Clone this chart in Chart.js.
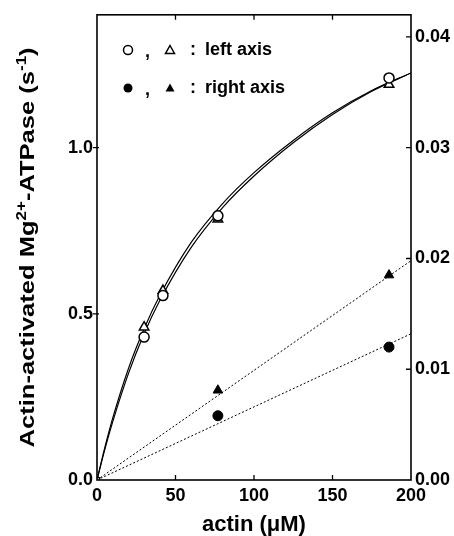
<!DOCTYPE html>
<html>
<head>
<meta charset="utf-8">
<script src="https://cdn.jsdelivr.net/npm/chart.js@4.4.0/dist/chart.umd.min.js"></script>
<style>
  html, body { margin: 0; padding: 0; background: #fff; }
  #wrap { width: 454px; height: 536px; }
</style>
</head>
<body>
<div id="wrap"><canvas id="atpaseChart" width="454" height="536"></canvas></div>
<script>
// actin concentrations (uM) of the measured points
const actinOpen = [30, 42, 77, 186];
const openCircle = [0.43, 0.555, 0.795, 1.21];     // left axis
const openTriangle = [0.46, 0.57, 0.785, 1.19];    // left axis
const actinFilled = [77, 186];
const filledCircle = [0.0058, 0.012];              // right axis
const filledTriangle = [0.0081, 0.0185];           // right axis

// fitted curves
const curveX = [0, 5, 10, 20, 30, 40, 60, 80, 100, 125, 150, 175, 200];
const curveCircle = [0, 0.092, 0.175, 0.32, 0.44, 0.54, 0.70, 0.82, 0.915, 1.015, 1.10, 1.17, 1.225];
const curveTriangle = [0, 0.098, 0.186, 0.335, 0.455, 0.555, 0.715, 0.832, 0.925, 1.022, 1.105, 1.172, 1.225];
const lineX = [0, 200];
const lineTriangle = [0, 0.0198];
const lineCircle = [0, 0.0132];

const xTicks = [0, 50, 100, 150, 200];
const leftTicks = [0, 0.5, 1.0];
const rightTicks = [0, 0.01, 0.02, 0.03, 0.04];

const FONT = "'Liberation Sans', Arial, sans-serif";

function pts(xs, ys) {
  return xs.map((x, i) => ({ x: x, y: ys[i] }));
}

// frame, tick marks, axis titles and in-plot key
const decor = {
  id: 'decor',
  afterDraw(chart) {
    const ctx = chart.ctx;
    const a = chart.chartArea;
    const sx = chart.scales.x, sy = chart.scales.y, sr = chart.scales.y1;
    ctx.save();
    ctx.strokeStyle = '#000';
    ctx.lineWidth = 1.6;
    ctx.strokeRect(a.left, a.top, a.right - a.left, a.bottom - a.top);
    ctx.lineWidth = 1.3;
    ctx.beginPath();
    xTicks.slice(1, -1).forEach(v => {
      const px = sx.getPixelForValue(v);
      ctx.moveTo(px, a.bottom); ctx.lineTo(px, a.bottom - 5);
      ctx.moveTo(px, a.top); ctx.lineTo(px, a.top + 5);
    });
    leftTicks.slice(1).forEach(v => {
      const py = sy.getPixelForValue(v);
      ctx.moveTo(a.left - 4, py); ctx.lineTo(a.left + 2, py);
    });
    rightTicks.slice(1).forEach(v => {
      const py = sr.getPixelForValue(v);
      ctx.moveTo(a.right - 5, py); ctx.lineTo(a.right, py);
    });
    ctx.stroke();

    // x title
    ctx.fillStyle = '#000';
    ctx.font = 'bold 22px ' + FONT;
    ctx.textAlign = 'center';
    ctx.textBaseline = 'middle';
    ctx.fillText('actin (\u03BCM)', (a.left + a.right) / 2, 525);

    // y title with superscripts, stretched along its length like the scan
    const parts = [
      ['Actin-activated Mg', false], ['2+', true], ['-ATPase (s', false], ['-1', true], [')', false]
    ];
    const big = 'bold 21px ' + FONT, small = 'bold 14px ' + FONT;
    let total = 0;
    parts.forEach(p => { ctx.font = p[1] ? small : big; total += ctx.measureText(p[0]).width; });
    const stretch = 400 / total;
    ctx.translate(27, (a.top + a.bottom) / 2);
    ctx.rotate(-Math.PI / 2);
    ctx.scale(stretch, 1);
    ctx.textAlign = 'left';
    ctx.textBaseline = 'alphabetic';
    let cx = -total / 2;
    parts.forEach(p => {
      ctx.font = p[1] ? small : big;
      ctx.fillText(p[0], cx, p[1] ? -1 : 7);
      cx += ctx.measureText(p[0]).width;
    });
    ctx.setTransform(1, 0, 0, 1, 0, 0);

    // key
    ctx.font = 'bold 18px ' + FONT;
    ctx.textAlign = 'left';
    ctx.textBaseline = 'middle';
    const rows = [[50, false, 'left axis'], [88, true, 'right axis']];
    rows.forEach(r => {
      const y = r[0];
      ctx.lineWidth = 1.5;
      ctx.beginPath();
      ctx.arc(128, y, 4.5, 0, Math.PI * 2);
      if (r[1]) ctx.fill(); else ctx.stroke();
      ctx.beginPath();
      ctx.moveTo(170, y - 4.5); ctx.lineTo(174.5, y + 3.5); ctx.lineTo(165.5, y + 3.5); ctx.closePath();
      if (r[1]) ctx.fill(); else ctx.stroke();
      ctx.fillText(',', 145, y + 2);
      ctx.fillText(':', 190, y);
      ctx.fillText(r[2], 205, y);
    });
    ctx.restore();
  }
};

new Chart(document.getElementById('atpaseChart'), {
  type: 'scatter',
  data: {
    datasets: [
      { data: pts(actinOpen, openCircle), yAxisID: 'y', pointStyle: 'circle', pointRadius: 5,
        borderColor: '#000', backgroundColor: '#fff', borderWidth: 1.5, showLine: false },
      { data: pts(actinOpen, openTriangle), yAxisID: 'y', pointStyle: 'triangle', pointRadius: 5.5,
        borderColor: '#000', backgroundColor: '#fff', borderWidth: 1.5, showLine: false },
      { data: pts(actinFilled, filledCircle), yAxisID: 'y1', pointStyle: 'circle', pointRadius: 5,
        borderColor: '#000', backgroundColor: '#000', borderWidth: 1, showLine: false },
      { data: pts(actinFilled, filledTriangle), yAxisID: 'y1', pointStyle: 'triangle', pointRadius: 5.5,
        borderColor: '#000', backgroundColor: '#000', borderWidth: 1, showLine: false },
      { data: [{ x: 0, y: 0 }], yAxisID: 'y', pointStyle: 'rect', pointRadius: 3.5,
        borderColor: '#000', backgroundColor: '#fff', borderWidth: 1.2, showLine: false },
      { data: pts(curveX, curveCircle), yAxisID: 'y', showLine: true, pointRadius: 0,
        borderColor: '#000', borderWidth: 1.2, cubicInterpolationMode: 'monotone' },
      { data: pts(curveX, curveTriangle), yAxisID: 'y', showLine: true, pointRadius: 0,
        borderColor: '#000', borderWidth: 1.2, cubicInterpolationMode: 'monotone' },
      { data: pts(lineX, lineTriangle), yAxisID: 'y1', showLine: true, pointRadius: 0,
        borderColor: '#000', borderWidth: 1, borderDash: [2, 2] },
      { data: pts(lineX, lineCircle), yAxisID: 'y1', showLine: true, pointRadius: 0,
        borderColor: '#000', borderWidth: 1, borderDash: [2, 2] }
    ]
  },
  options: {
    responsive: false,
    animation: false,
    layout: { padding: { top: 13, left: 0, right: 0, bottom: 0 } },
    plugins: { legend: { display: false }, tooltip: { enabled: false } },
    scales: {
      x: {
        type: 'linear', min: 0, max: 200,
        afterFit: s => { s.height = 56; },
        border: { display: false },
        grid: { drawOnChartArea: false, drawTicks: false, display: false },
        ticks: { stepSize: 50, padding: 5, color: '#000', font: { family: FONT, size: 18, weight: 'bold' } }
      },
      y: {
        position: 'left', min: 0, max: 1.4,
        afterFit: s => { s.width = 97; },
        border: { display: false },
        grid: { drawOnChartArea: false, drawTicks: false, display: false },
        ticks: { stepSize: 0.5, includeBounds: false, padding: 4, color: '#000',
          font: { family: FONT, size: 18, weight: 'bold' }, callback: v => v.toFixed(1) }
      },
      y1: {
        position: 'right', min: 0, max: 0.042,
        afterFit: s => { s.width = 43; },
        border: { display: false },
        grid: { drawOnChartArea: false, drawTicks: false, display: false },
        ticks: { stepSize: 0.01, includeBounds: false, padding: 4, color: '#000',
          font: { family: FONT, size: 18, weight: 'bold' }, callback: v => v.toFixed(2) }
      }
    }
  },
  plugins: [decor]
});
</script>
</body>
</html>
